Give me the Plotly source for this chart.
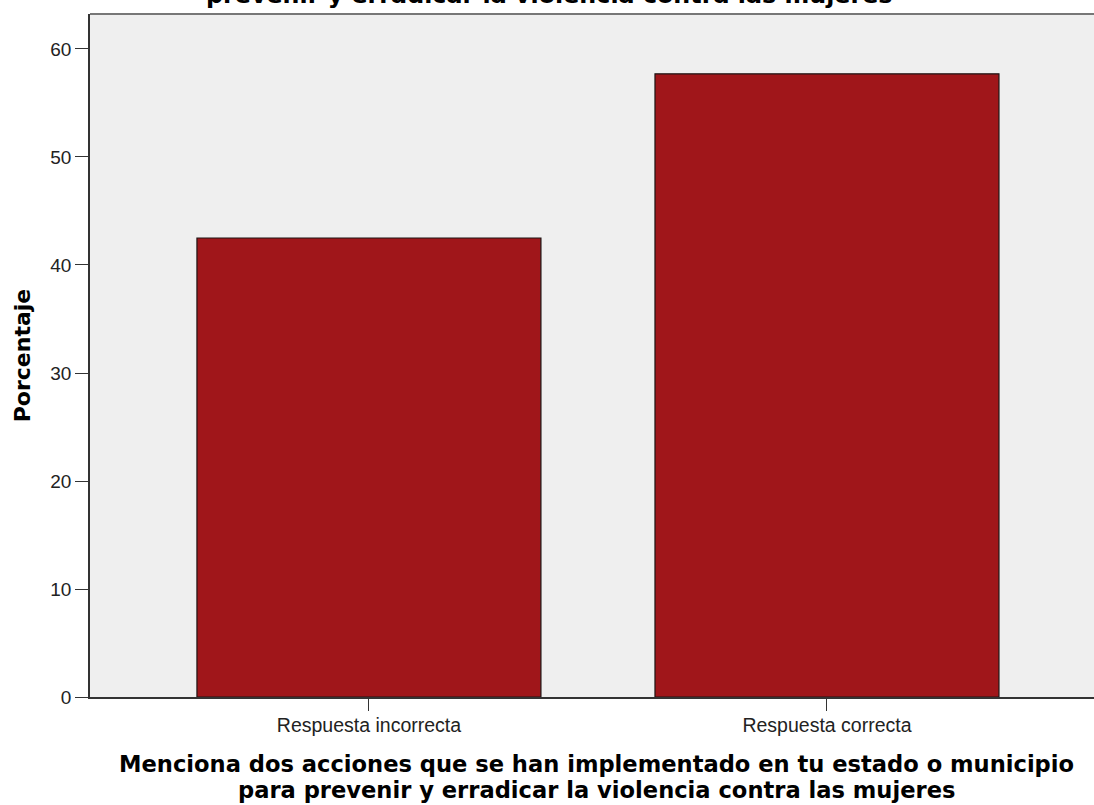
import plotly.graph_objects as go

# Porcentaje por tipo de respuesta
categorias = ["Respuesta incorrecta", "Respuesta correcta"]
porcentajes = [42.5, 57.7]

titulo_x_linea1 = "Menciona dos acciones que se han implementado en tu estado o municipio"
titulo_x_linea2 = "para prevenir y erradicar la violencia contra las mujeres"
titulo_superior = "prevenir y erradicar la violencia contra las mujeres"

BOLD = "DejaVu Sans, Verdana, sans-serif"

fig = go.Figure(go.Bar(x=categorias, y=porcentajes, width=0.751,
                       marker=dict(color="#A0161A", line=dict(color="#1e1414", width=1.2))))

fig.update_layout(
    width=1094, height=805,
    margin=dict(l=90, r=0, t=14, b=108),
    paper_bgcolor="white", plot_bgcolor="#EFEFEF",
    font=dict(family="Liberation Sans, Arial", color="#222"),
    showlegend=False,
)

fig.update_xaxes(
    range=[-0.609, 1.583], showgrid=False, showline=True, linecolor="#333", linewidth=1.6,
    ticks="outside", ticklen=12, tickcolor="#333", tickwidth=1, ticklabelstandoff=-2,
    tickfont=dict(size=19.5, color="#222"),
)
fig.update_yaxes(
    range=[0, 63.24], tickvals=[0, 10, 20, 30, 40, 50, 60], showgrid=False, zeroline=False,
    showline=True, linecolor="#333", linewidth=1.6, ticks="outside", ticklen=13, tickcolor="#333",
    tickfont=dict(size=19, color="#222"),
    title=dict(text="<b>Porcentaje</b>", font=dict(family=BOLD, size=22, color="black"), standoff=14),
)

# marco superior del area de grafico
fig.add_shape(type="line", xref="paper", yref="paper", x0=0, x1=1, y0=1, y1=1,
              line=dict(color="#777", width=2))

# titulo del eje x en dos lineas
fig.add_annotation(text="<b>" + titulo_x_linea1 + "</b>", xref="paper", yref="paper",
                   x=0.504, y=0, yanchor="top", yshift=-52, showarrow=False,
                   font=dict(family=BOLD, size=22.6, color="black"))
fig.add_annotation(text="<b>" + titulo_x_linea2 + "</b>", xref="paper", yref="paper",
                   x=0.504, y=0, yanchor="top", yshift=-78, showarrow=False,
                   font=dict(family=BOLD, size=22.6, color="black"))

# titulo recortado en la parte superior
fig.add_annotation(text="<b>" + titulo_superior + "</b>", xref="paper", yref="paper",
                   x=0.457, y=1, yanchor="bottom", yshift=3, showarrow=False,
                   font=dict(family=BOLD, size=23.8, color="black"))

fig.write_html("out.html", config={"displayModeBar": False},
               post_script="document.body.style.margin='0';")
